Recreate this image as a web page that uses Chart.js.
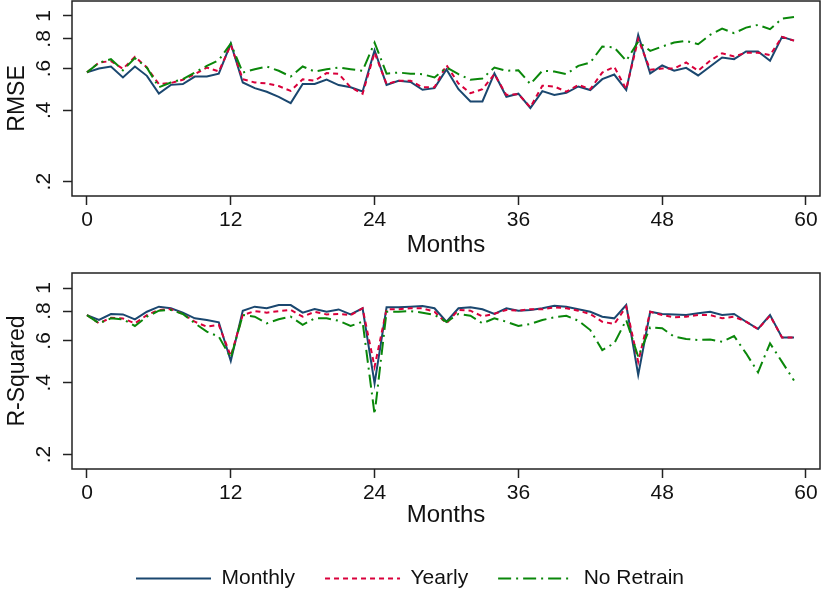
<!DOCTYPE html>
<html>
<head>
<meta charset="utf-8">
<script src="https://cdn.jsdelivr.net/npm/chart.js@4"></script>
<style>
    html, body { margin: 0; padding: 0; background: #fff; overflow: hidden; }
    #wrap { position: relative; width: 825px; height: 600px; overflow: hidden; }
    canvas { position: absolute; left: 0; }
</style>
</head>
<body>
<div id="wrap">
    <canvas id="rmseChart" width="825" height="260" style="top:0"></canvas>
    <canvas id="r2Chart" width="825" height="327" style="top:272px"></canvas>
</div>
<script>
const months = [
    0, 1, 2, 3, 4, 5, 6, 7, 8, 9, 10, 11, 12, 13, 14, 15, 16, 17, 18, 19,
    20, 21, 22, 23, 24, 25, 26, 27, 28, 29, 30, 31, 32, 33, 34, 35, 36, 37, 38, 39,
    40, 41, 42, 43, 44, 45, 46, 47, 48, 49, 50, 51, 52, 53, 54, 55, 56, 57, 58, 59
];
const monthTicks = [0, 12, 24, 36, 48, 60];
const valueTicks = [0.2, 0.4, 0.6, 0.8, 1];
const seriesNames = ["Monthly", "Yearly", "No Retrain"];

const rmseMonthly = [
    0.578, 0.600, 0.612, 0.550, 0.612, 0.559, 0.470, 0.512, 0.516, 0.555,
    0.555, 0.571, 0.765, 0.524, 0.496, 0.479, 0.456, 0.429, 0.516, 0.516,
    0.539, 0.511, 0.500, 0.480, 0.717, 0.512, 0.533, 0.527, 0.488, 0.496,
    0.595, 0.491, 0.436, 0.436, 0.572, 0.456, 0.470, 0.409, 0.482, 0.464,
    0.474, 0.504, 0.487, 0.541, 0.566, 0.487, 0.832, 0.572, 0.618, 0.587,
    0.604, 0.561, 0.612, 0.668, 0.657, 0.708, 0.708, 0.647, 0.816, 0.787
];
const rmseYearly = [
    0.578, 0.636, 0.645, 0.598, 0.672, 0.606, 0.516, 0.521, 0.538, 0.568,
    0.606, 0.583, 0.755, 0.541, 0.524, 0.519, 0.506, 0.483, 0.541, 0.533,
    0.574, 0.570, 0.500, 0.470, 0.700, 0.516, 0.533, 0.533, 0.500, 0.500,
    0.620, 0.519, 0.472, 0.491, 0.568, 0.464, 0.468, 0.412, 0.508, 0.504,
    0.479, 0.512, 0.491, 0.577, 0.610, 0.491, 0.798, 0.593, 0.600, 0.600,
    0.636, 0.587, 0.647, 0.696, 0.674, 0.700, 0.700, 0.683, 0.816, 0.787
];
const rmseNoRetrain = [
    0.578, 0.635, 0.657, 0.590, 0.664, 0.605, 0.500, 0.524, 0.541, 0.577,
    0.616, 0.651, 0.765, 0.577, 0.596, 0.612, 0.587, 0.555, 0.612, 0.583,
    0.596, 0.606, 0.596, 0.587, 0.772, 0.571, 0.577, 0.571, 0.568, 0.550,
    0.606, 0.568, 0.538, 0.545, 0.606, 0.587, 0.590, 0.516, 0.587, 0.583,
    0.568, 0.616, 0.636, 0.743, 0.736, 0.647, 0.780, 0.712, 0.743, 0.772,
    0.785, 0.760, 0.832, 0.884, 0.846, 0.893, 0.917, 0.879, 0.974, 0.990
];

const r2Monthly = [
    0.770, 0.734, 0.778, 0.775, 0.739, 0.795, 0.835, 0.822, 0.788, 0.746,
    0.734, 0.718, 0.494, 0.803, 0.835, 0.822, 0.848, 0.848, 0.788, 0.816,
    0.795, 0.813, 0.775, 0.822, 0.398, 0.830, 0.830, 0.835, 0.840, 0.822,
    0.722, 0.822, 0.830, 0.814, 0.778, 0.822, 0.803, 0.809, 0.822, 0.843,
    0.835, 0.815, 0.795, 0.758, 0.746, 0.848, 0.432, 0.795, 0.778, 0.775,
    0.770, 0.783, 0.795, 0.770, 0.778, 0.722, 0.673, 0.770, 0.620, 0.620
];
const r2Yearly = [
    0.770, 0.711, 0.750, 0.745, 0.711, 0.770, 0.809, 0.815, 0.778, 0.722,
    0.688, 0.700, 0.518, 0.770, 0.800, 0.788, 0.800, 0.809, 0.758, 0.795,
    0.775, 0.778, 0.770, 0.822, 0.467, 0.815, 0.815, 0.822, 0.822, 0.795,
    0.711, 0.809, 0.803, 0.760, 0.780, 0.809, 0.803, 0.815, 0.814, 0.830,
    0.822, 0.803, 0.778, 0.722, 0.706, 0.835, 0.490, 0.795, 0.770, 0.753,
    0.758, 0.770, 0.770, 0.746, 0.758, 0.722, 0.673, 0.765, 0.620, 0.620
];
const r2NoRetrain = [
    0.770, 0.711, 0.746, 0.739, 0.693, 0.758, 0.803, 0.809, 0.778, 0.711,
    0.656, 0.625, 0.510, 0.770, 0.758, 0.711, 0.739, 0.758, 0.700, 0.746,
    0.746, 0.729, 0.693, 0.722, 0.295, 0.795, 0.795, 0.800, 0.788, 0.770,
    0.722, 0.778, 0.765, 0.711, 0.746, 0.722, 0.693, 0.706, 0.734, 0.753,
    0.765, 0.729, 0.666, 0.549, 0.586, 0.734, 0.515, 0.684, 0.678, 0.625,
    0.611, 0.605, 0.608, 0.595, 0.629, 0.532, 0.443, 0.586, 0.490, 0.409
];

const FONT = "'Liberation Sans', Arial, Helvetica, sans-serif";
const INK = "#111";

// box round the plot area, like the Stata graph region
const framePlugin = {
    id: "frame",
    afterDatasetsDraw(chart) {
        const a = chart.chartArea;
        const ctx = chart.ctx;
        ctx.save();
        ctx.strokeStyle = "#222";
        ctx.lineWidth = 1.5;
        ctx.strokeRect(a.left, a.top, a.right - a.left, a.bottom - a.top);
        ctx.restore();
    }
};

function points(values) {
    return months.map((m, i) => ({ x: m, y: values[i] }));
}

function tickLabel(v) {
    return v === 1 ? "1" : String(v).replace("0.", ".");
}

// legend lines keep the dash pattern of their dataset
function legendLabels(chart) {
    const items = Chart.defaults.plugins.legend.labels.generateLabels(chart);
    return items.map(item => {
        const ds = chart.data.datasets[item.datasetIndex];
        item.lineDash = ds.borderDash || [];
        item.strokeStyle = ds.borderColor;
        item.lineWidth = ds.borderWidth;
        return item;
    });
}

function createPanel(canvasId, yTitle, monthly, yearly, noRetrain, showLegend, xHeight, titlePad) {
    const data = {
        datasets: [{
            label: seriesNames[0],
            data: points(monthly),
            borderColor: "#1a476f",
            borderWidth: 2,
            order: 3
        }, {
            label: seriesNames[1],
            data: points(yearly),
            borderColor: "#d9003b",
            borderWidth: 2,
            borderDash: [5, 4],
            order: 2
        }, {
            label: seriesNames[2],
            data: points(noRetrain),
            borderColor: "#0a870a",
            borderWidth: 2,
            borderDash: [13, 5, 2, 5],
            order: 1
        }]
    };

    const config = {
        type: "line",
        data: data,
        plugins: [framePlugin],
        options: {
            responsive: false,
            animation: false,
            layout: { padding: { top: 1, right: 5, left: 0, bottom: 0 } },
            elements: { point: { radius: 0 }, line: { tension: 0, fill: false } },
            plugins: {
                tooltip: { enabled: false },
                legend: {
                    display: showLegend,
                    position: "bottom",
                    labels: {
                        usePointStyle: true,
                        pointStyle: "line",
                        pointStyleWidth: 75,
                        padding: 30,
                        color: INK,
                        font: { family: FONT, size: 21 },
                        generateLabels: legendLabels,
                        sort: (a, b) => a.datasetIndex - b.datasetIndex
                    }
                }
            },
            scales: {
                x: {
                    type: "linear",
                    min: -1.25,
                    max: 61.17,
                    afterBuildTicks: s => { s.ticks = monthTicks.map(v => ({ value: v })); },
                    afterFit: s => { s.height = xHeight; s.paddingLeft = 0; s.paddingRight = 0; },
                    border: { display: false },
                    grid: { drawOnChartArea: false, drawTicks: true, tickLength: 9, color: "#222", tickWidth: 1.5 },
                    ticks: { color: INK, font: { family: FONT, size: 21 }, padding: 3, maxRotation: 0 },
                    title: { display: true, text: "Months", color: INK, font: { family: FONT, size: 24 }, padding: titlePad }
                },
                y: {
                    type: "logarithmic",
                    min: 0.174,
                    max: 1.156,
                    afterBuildTicks: s => { s.ticks = valueTicks.map(v => ({ value: v })); },
                    afterFit: s => { s.width = 72; s.paddingTop = 0; s.paddingBottom = 0; },
                    border: { display: false },
                    grid: { drawOnChartArea: false, drawTicks: true, tickLength: 9, color: "#222", tickWidth: 1.5 },
                    ticks: {
                        color: INK,
                        font: { family: FONT, size: 21 },
                        minRotation: 90,
                        maxRotation: 90,
                        autoSkip: false,
                        crossAlign: "center",
                        padding: 10,
                        callback: v => tickLabel(v)
                    },
                    title: { display: true, text: yTitle, color: INK, font: { family: FONT, size: 23 }, padding: { top: 4, bottom: 0 } }
                }
            }
        }
    };

    const ctx = document.getElementById(canvasId).getContext("2d");
    return new Chart(ctx, config);
}

const rmseChart = createPanel("rmseChart", "RMSE", rmseMonthly, rmseYearly, rmseNoRetrain, false, 64, 0);
const r2Chart = createPanel("r2Chart", "R-Squared", r2Monthly, r2Yearly, r2NoRetrain, true, 69, 8);
</script>
</body>
</html>
